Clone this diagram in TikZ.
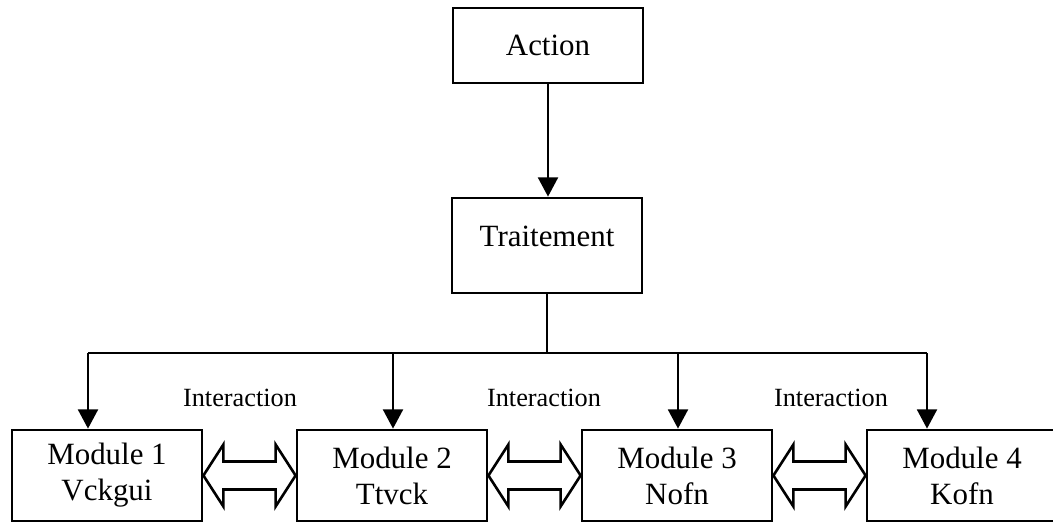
\documentclass[tikz,border=0pt]{standalone}
\usepackage{fontspec}
\setmainfont{Liberation Serif}
\usetikzlibrary{arrows.meta,calc}

\begin{document}
\begin{tikzpicture}[x=0.25mm, y=-0.25mm,
    caja/.style={draw, line width=0.7mm, minimum width=47.5mm, inner sep=0pt,
        font=\fontsize{22}{25.5}\selectfont, align=center},
    flecha/.style={line width=0.5mm, -{Triangle[length=4.8mm, width=5mm]}},
    doble/.style={draw, line width=0.65mm, fill=white, line join=miter}]
    \useasboundingbox (0,0) rectangle (1053,523);
    % Cajas de arriba
    \node[caja, minimum height=18.75mm] (accion) at (548,45.5) {Action};
    \node[caja, minimum height=23.75mm, text depth=4.5mm] (trait) at (547,245.5) {Traitement};
    \draw[flecha] (accion.south) -- (accion.south |- trait.north);
    % Modulos
    \foreach \i/\nom in {1/Vckgui, 2/Ttvck, 3/Nofn, 4/Kofn}{
        \node[caja, minimum height=22.75mm] (m\i)
            at ({107+285*(\i-1)},475.5) {Module \i\\\nom};
    }
    % Reparto hacia los modulos
    \foreach \i/\xb in {1/88, 2/393, 3/678, 4/927}{
        \coordinate (b\i) at (\xb,353);
    }
    \draw[line width=0.5mm] (trait.south) -- (trait.south |- b1);
    \draw[line width=0.5mm] (b1) -- (b4);
    \foreach \i in {1,...,4}{
        \draw[flecha] (b\i) -- (b\i |- m\i.north);
    }
    % Flechas dobles entre modulos
    \foreach \a/\b in {1/2, 2/3, 3/4}{
        \draw[doble] (m\a.east) -- ++(20,-31) -- ++(0,17)
            -- ($(m\b.west)+(-20,-14)$) -- ++(0,-17) -- (m\b.west)
            -- ++(-20,31) -- ++(0,-17)
            -- ($(m\a.east)+(20,14)$) -- ++(0,17) -- cycle;
    }
    % Etiquetas
    \foreach \xl [count=\k] in {240, 544, 831}{
        \node[font=\fontsize{18.7}{20}\selectfont] (inter\k) at (\xl,398) {Interaction};
    }
\end{tikzpicture}
\end{document}
